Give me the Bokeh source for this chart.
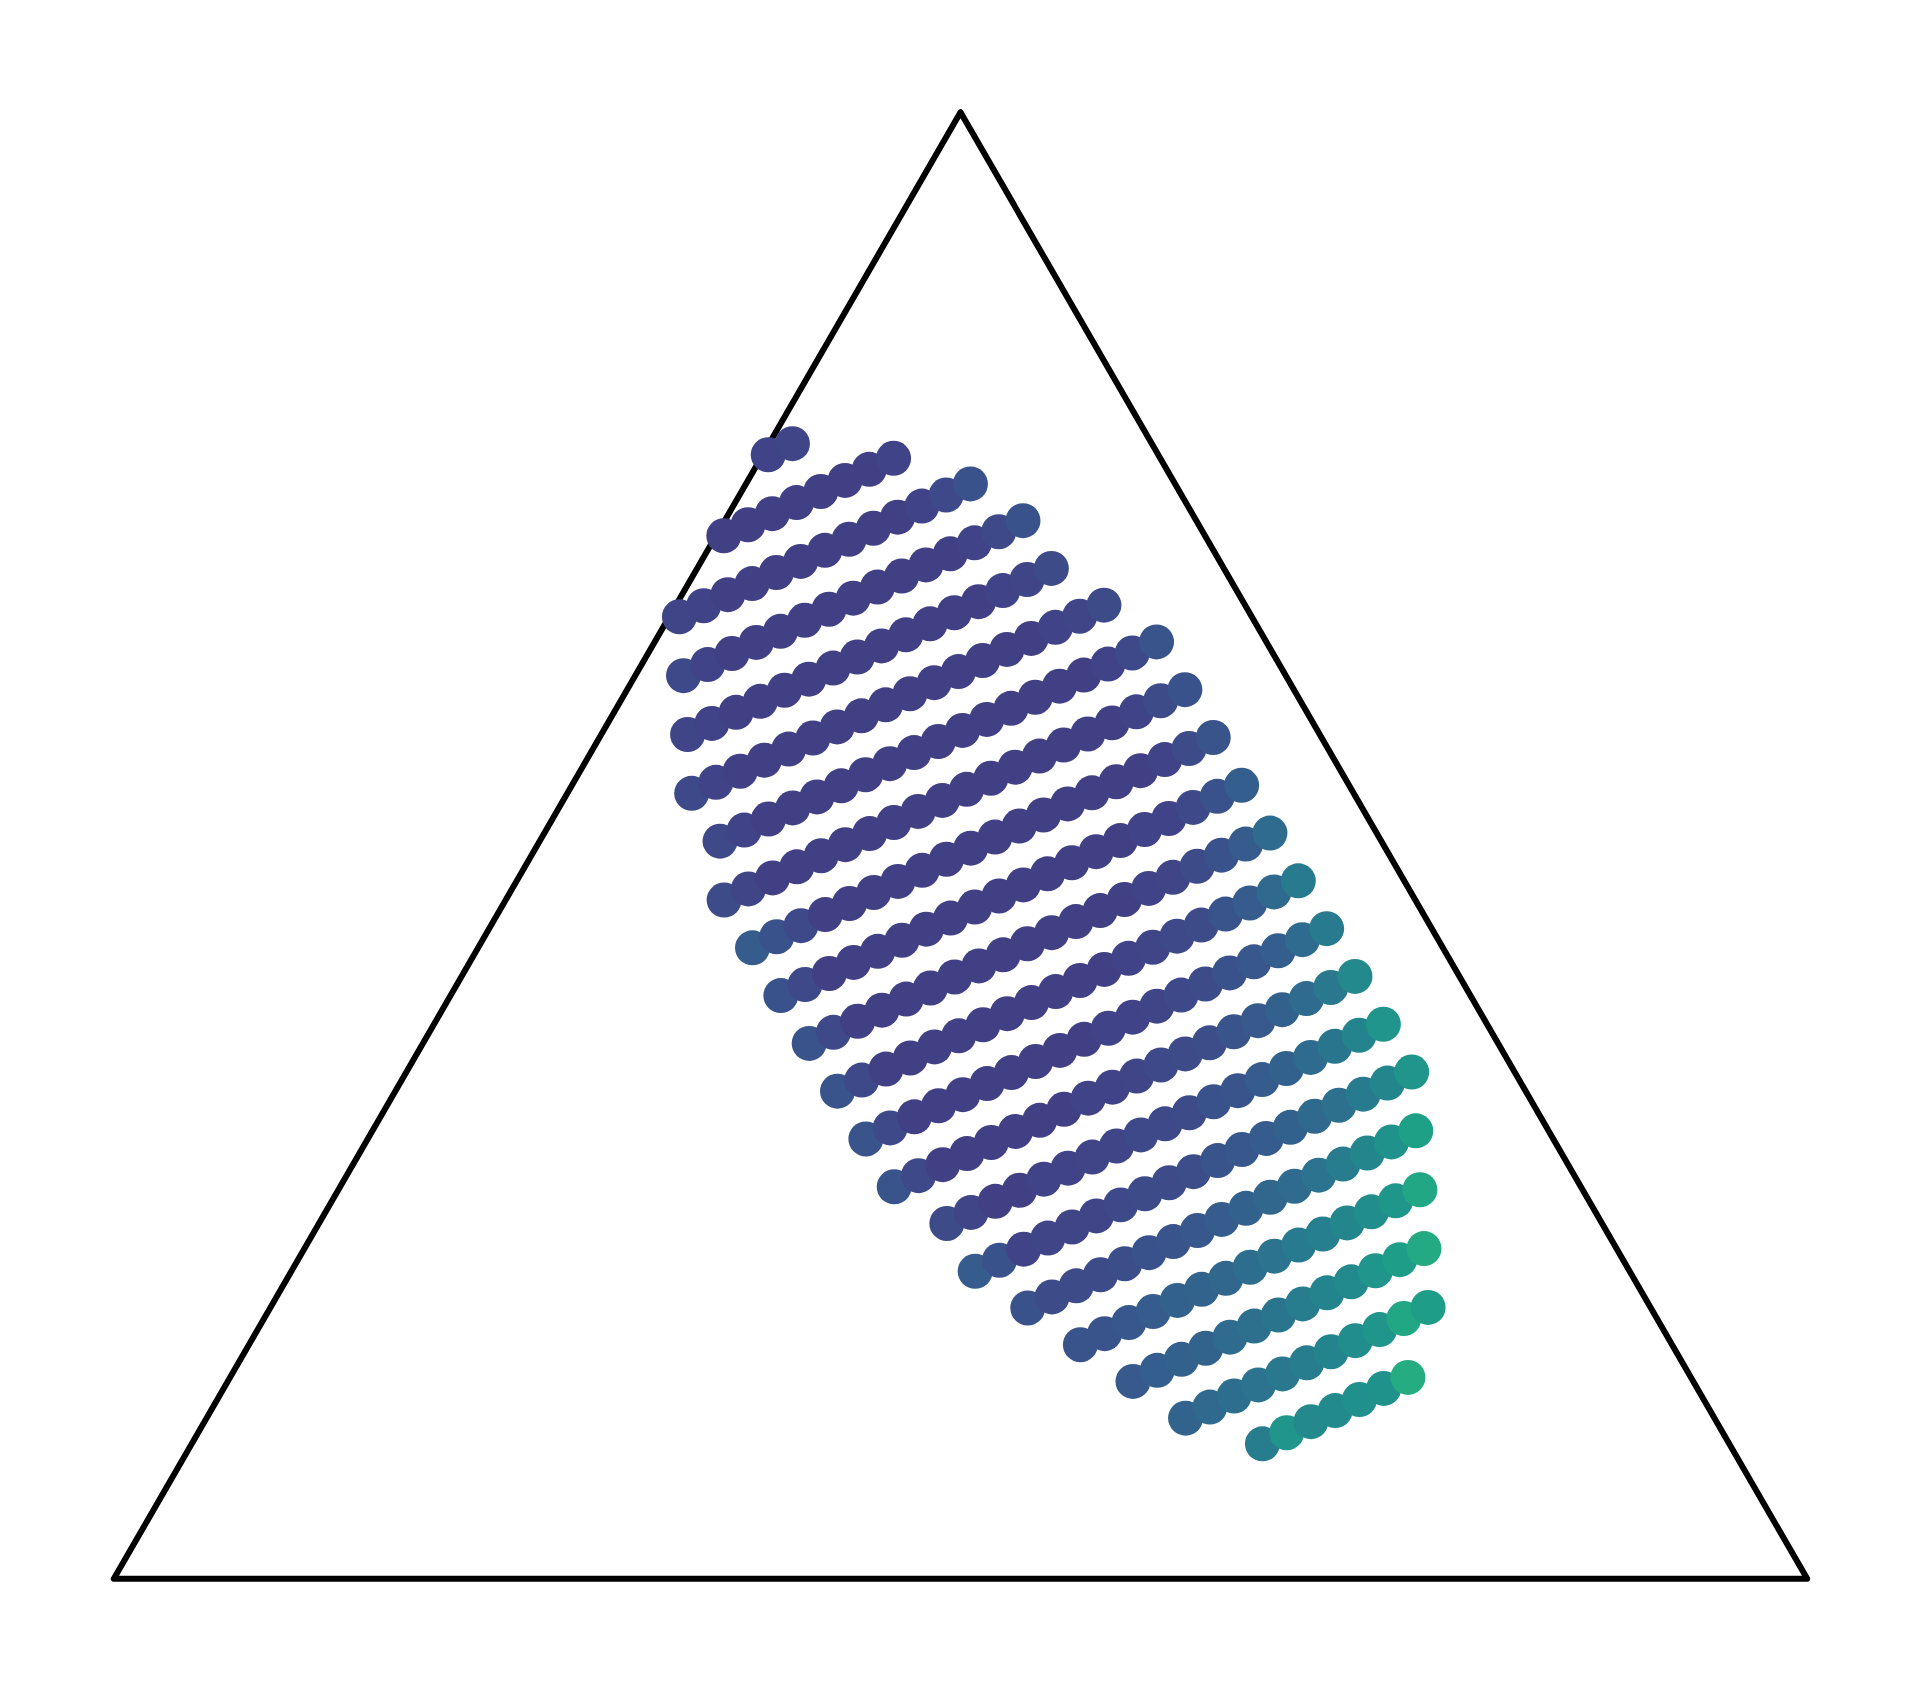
import math
from bokeh.plotting import figure
from bokeh.models import Range1d, ColumnDataSource, LinearColorMapper
from bokeh.palettes import Viridis256
from bokeh.embed import file_html
from bokeh.resources import INLINE

# ---- data (ternary fractions: A = top corner, B = bottom-left, C = bottom-right) ----
# the mixtures lie on a regular grid: composition of grid node (row 0, col 0)
grid_origin = [0.76645, 0.23034, 0.00321]
# change of composition for one grid row / one grid column
grid_row_step = [-0.040137, 0.017648, 0.022489]
grid_col_step = [0.007549, -0.018095, 0.010546]
# first and last grid column present in each row
row_first = [0, -2, -4, -4, -4, -4, -3, -3, -2, -1, 0, 1, 2, 3, 5, 6, 8, 10, 12, 14, 17]
row_last = [1, 5, 8, 10, 11, 13, 15, 16, 17, 18, 19, 20, 21, 22, 23, 24, 24, 24, 24, 24, 23]
# colour value of each point (viridis scale 0..1), row by row, left to right
row_values = [
    [0.20, 0.21],
    [0.19, 0.19, 0.19, 0.19, 0.19, 0.19, 0.19, 0.20],
    [0.21, 0.20, 0.19, 0.19, 0.19, 0.19, 0.19, 0.19, 0.19, 0.19, 0.20, 0.22, 0.25],
    [0.22, 0.20, 0.19, 0.19, 0.19, 0.19, 0.19, 0.19, 0.19, 0.19, 0.19, 0.19, 0.20, 0.22, 0.25],
    [0.21, 0.20, 0.19, 0.19, 0.19, 0.19, 0.19, 0.19, 0.19, 0.19, 0.19, 0.19, 0.19, 0.20, 0.21, 0.23],
    [0.22, 0.20, 0.19, 0.19, 0.19, 0.19, 0.19, 0.19, 0.19, 0.19, 0.19, 0.19, 0.19, 0.19, 0.19, 0.20, 0.21, 0.23],
    [0.22, 0.20, 0.19, 0.19, 0.19, 0.19, 0.19, 0.19, 0.19, 0.19, 0.19, 0.19, 0.19, 0.19, 0.19, 0.19, 0.20, 0.22, 0.26],
    [0.23, 0.21, 0.19, 0.19, 0.19, 0.19, 0.19, 0.19, 0.19, 0.19, 0.19, 0.19, 0.19, 0.19, 0.19, 0.19, 0.19, 0.20, 0.23, 0.25],
    [0.29, 0.25, 0.22, 0.19, 0.19, 0.19, 0.19, 0.19, 0.19, 0.19, 0.19, 0.19, 0.19, 0.19, 0.19, 0.19, 0.19, 0.20, 0.23, 0.26],
    [0.25, 0.22, 0.19, 0.19, 0.19, 0.19, 0.19, 0.19, 0.19, 0.19, 0.19, 0.19, 0.19, 0.19, 0.19, 0.20, 0.20, 0.22, 0.25, 0.30],
    [0.26, 0.22, 0.19, 0.19, 0.19, 0.19, 0.19, 0.19, 0.19, 0.19, 0.19, 0.19, 0.19, 0.19, 0.20, 0.21, 0.23, 0.25, 0.29, 0.35],
    [0.26, 0.22, 0.19, 0.19, 0.19, 0.19, 0.19, 0.19, 0.19, 0.19, 0.19, 0.19, 0.20, 0.21, 0.22, 0.23, 0.26, 0.29, 0.34, 0.41],
    [0.26, 0.22, 0.19, 0.19, 0.19, 0.19, 0.19, 0.19, 0.19, 0.19, 0.20, 0.20, 0.21, 0.22, 0.23, 0.25, 0.27, 0.30, 0.35, 0.41],
    [0.26, 0.22, 0.19, 0.19, 0.19, 0.19, 0.19, 0.19, 0.20, 0.20, 0.21, 0.22, 0.23, 0.24, 0.26, 0.28, 0.31, 0.35, 0.40, 0.47],
    [0.23, 0.21, 0.19, 0.19, 0.20, 0.20, 0.21, 0.21, 0.22, 0.22, 0.23, 0.25, 0.26, 0.29, 0.31, 0.35, 0.39, 0.45, 0.52],
    [0.29, 0.25, 0.20, 0.21, 0.21, 0.21, 0.22, 0.23, 0.23, 0.24, 0.26, 0.27, 0.29, 0.31, 0.34, 0.37, 0.41, 0.46, 0.52],
    [0.25, 0.23, 0.23, 0.23, 0.24, 0.25, 0.26, 0.27, 0.29, 0.31, 0.33, 0.35, 0.38, 0.42, 0.46, 0.51, 0.57],
    [0.26, 0.26, 0.27, 0.29, 0.31, 0.32, 0.33, 0.36, 0.38, 0.41, 0.43, 0.46, 0.49, 0.53, 0.60],
    [0.28, 0.30, 0.31, 0.32, 0.35, 0.37, 0.39, 0.42, 0.45, 0.48, 0.52, 0.56, 0.61],
    [0.32, 0.34, 0.36, 0.38, 0.40, 0.42, 0.45, 0.49, 0.52, 0.60, 0.56],
    [0.42, 0.52, 0.47, 0.48, 0.50, 0.51, 0.62],
]

SQ3 = math.sqrt(3.0) / 2.0


def to_xy(a, b, c):
    return c + a / 2.0, a * SQ3


xs, ys, vs = [], [], []
for i, (j0, j1) in enumerate(zip(row_first, row_last)):
    vals = row_values[i]
    assert len(vals) == j1 - j0 + 1
    for k, j in enumerate(range(j0, j1 + 1)):
        comp = [grid_origin[n] + i * grid_row_step[n] + j * grid_col_step[n] for n in range(3)]
        x, y = to_xy(*comp)
        xs.append(x)
        ys.append(y)
        vs.append(vals[k])

src = ColumnDataSource(dict(x=xs, y=ys, v=vs))
mapper = LinearColorMapper(palette=Viridis256, low=0.0, high=1.0)

p = figure(width=1900, height=1677, output_backend="svg", toolbar_location=None,
           x_range=Range1d(-0.06691, 1.05509), y_range=Range1d(-0.05829, 0.93203),
           min_border=0, background_fill_color="white", border_fill_color="white")
p.axis.visible = False
p.grid.visible = False
p.outline_line_color = None

corners_x = [to_xy(0, 1, 0)[0], to_xy(0, 0, 1)[0], to_xy(1, 0, 0)[0]]
corners_y = [to_xy(0, 1, 0)[1], to_xy(0, 0, 1)[1], to_xy(1, 0, 0)[1]]
p.patch(x=corners_x, y=corners_y, fill_color=None, line_color="black",
        line_width=6, line_join="round")

p.scatter("x", "y", source=src, size=35, marker="circle",
          fill_color={"field": "v", "transform": mapper}, line_color=None)

open("out.html", "w").write(file_html(p, INLINE))
